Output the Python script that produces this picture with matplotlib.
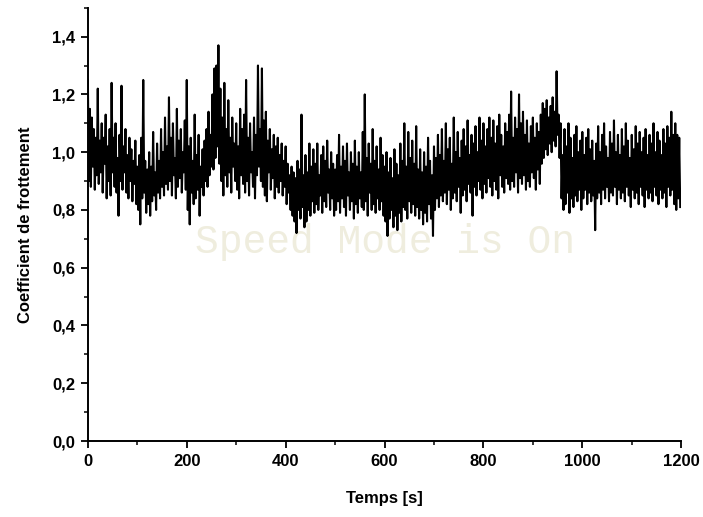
import numpy as np
import matplotlib
matplotlib.use('Agg')
import matplotlib.pyplot as plt
from matplotlib.ticker import MultipleLocator

# friction coefficient, one value every 2 s
mu_0_200 = [1.25, 0.90, 1.15, 0.88, 1.12, 0.95, 1.08, 0.87, 1.05, 0.92,
            1.22, 0.89, 1.04, 0.93, 1.10, 0.86, 1.05, 0.96, 1.13, 0.84,
            1.02, 0.90, 1.08, 0.85, 1.24, 0.93, 1.05, 0.88, 1.10, 0.86,
            0.98, 0.78, 1.06, 0.90, 1.23, 0.87, 1.02, 0.93, 1.08, 0.86,
            0.99, 0.84, 1.05, 0.90, 1.01, 0.83, 0.97, 0.89, 1.04, 0.82,
            0.95, 0.80, 0.99, 0.75, 1.05, 0.84, 1.25, 0.86, 0.97, 0.79,
            0.94, 0.82, 1.00, 0.78, 0.95, 0.83, 1.07, 0.85, 0.93, 0.80,
            1.03, 0.86, 0.97, 0.84, 1.08, 0.88, 1.00, 0.85, 1.12, 0.89,
            1.02, 0.87, 1.19, 0.90, 1.05, 0.85, 1.10, 0.92, 0.98, 0.84,
            1.15, 0.88, 1.04, 0.91, 1.08, 0.86, 1.00, 0.93, 1.11, 0.87]
mu_200_400 = [1.25, 0.80, 1.02, 0.75, 1.05, 0.86, 0.97, 0.82, 1.13, 0.84,
              0.99, 0.87, 1.06, 0.78, 0.95, 0.88, 1.01, 0.85, 1.04, 0.90,
              1.08, 0.88, 1.14, 0.92, 1.06, 0.95, 1.20, 0.94, 1.29, 0.98,
              1.30, 1.02, 1.37, 0.96, 1.22, 0.90, 1.12, 0.85, 1.24, 0.92,
              1.08, 0.88, 1.18, 0.93, 1.05, 0.86, 1.12, 0.95, 1.03, 0.90,
              1.10, 0.87, 1.02, 0.84, 1.15, 0.92, 1.08, 0.89, 1.13, 0.86,
              1.25, 0.90, 1.05, 0.85, 1.10, 0.93, 1.00, 0.88, 1.12, 0.84,
              1.06, 0.92, 1.30, 0.95, 1.08, 0.90, 1.29, 0.88, 1.11, 0.85,
              1.14, 0.83, 1.04, 0.93, 1.08, 0.87, 1.01, 0.91, 1.06, 0.84,
              1.02, 0.88, 1.05, 0.86, 0.99, 0.90, 1.03, 0.85, 0.97, 0.88]
mu_400_600 = [1.02, 0.82, 0.96, 0.86, 0.92, 0.80, 0.95, 0.78, 0.93, 0.76,
              0.91, 0.72, 0.97, 0.80, 0.94, 0.77, 1.13, 0.81, 0.92, 0.74,
              0.99, 0.76, 0.93, 0.80, 1.03, 0.78, 0.95, 0.83, 1.01, 0.79,
              0.96, 0.82, 1.03, 0.80, 0.92, 0.85, 0.99, 0.79, 1.02, 0.83,
              0.97, 0.81, 1.04, 0.86, 0.94, 0.80, 1.00, 0.84, 0.96, 0.78,
              0.94, 0.80, 0.99, 0.83, 1.06, 0.79, 0.95, 0.84, 1.02, 0.81,
              0.97, 0.78, 1.03, 0.85, 0.93, 0.80, 1.00, 0.83, 0.96, 0.77,
              1.04, 0.82, 0.95, 0.79, 1.00, 0.84, 0.93, 0.81, 1.07, 0.80,
              1.20, 0.83, 0.98, 0.78, 1.03, 0.86, 0.96, 0.80, 1.08, 0.82,
              0.97, 0.79, 1.02, 0.84, 0.94, 0.80, 1.05, 0.83, 0.99, 0.78]
mu_600_800 = [0.95, 0.76, 1.00, 0.71, 0.93, 0.77, 0.98, 0.80, 0.91, 0.74,
              1.01, 0.78, 0.96, 0.73, 0.92, 0.79, 1.03, 0.76, 0.97, 0.81,
              1.10, 0.80, 0.95, 0.77, 1.07, 0.83, 0.98, 0.79, 1.04, 0.82,
              0.96, 0.78, 1.09, 0.81, 0.94, 0.77, 1.01, 0.80, 0.93, 0.75,
              1.00, 0.79, 0.95, 0.76, 1.05, 0.82, 0.97, 0.77, 0.92, 0.71,
              1.02, 0.80, 0.98, 0.84, 1.06, 0.81, 0.99, 0.85, 1.08, 0.83,
              0.97, 0.86, 1.10, 0.82, 1.01, 0.87, 1.05, 0.80, 0.96, 0.84,
              1.12, 0.86, 1.00, 0.83, 1.07, 0.88, 0.98, 0.79, 1.04, 0.85,
              1.08, 0.87, 1.02, 0.83, 1.11, 0.89, 0.99, 0.86, 1.06, 0.78,
              1.03, 0.88, 1.09, 0.85, 1.00, 0.90, 1.12, 0.87, 1.04, 0.84]
mu_800_1000 = [1.10, 0.89, 1.02, 0.86, 1.08, 0.91, 1.12, 0.88, 1.05, 0.85,
               1.11, 0.90, 1.03, 0.87, 1.09, 0.84, 1.13, 0.92, 1.06, 0.88,
               1.02, 0.86, 1.10, 0.91, 1.07, 0.89, 1.13, 0.87, 1.21, 0.90,
               1.05, 0.88, 1.12, 0.93, 1.08, 0.86, 1.20, 0.91, 1.10, 0.89,
               1.14, 0.92, 1.06, 0.87, 1.11, 0.90, 1.03, 0.88, 1.09, 0.93,
               1.12, 0.91, 1.05, 0.87, 1.10, 0.94, 1.07, 0.89, 1.13, 0.96,
               1.17, 0.98, 1.15, 1.01, 1.18, 0.99, 1.12, 1.03, 1.16, 1.00,
               1.19, 1.04, 1.14, 1.02, 1.28, 1.06, 1.13, 0.98, 1.10, 0.84,
               0.99, 0.80, 1.08, 0.82, 1.02, 0.86, 1.10, 0.79, 1.05, 0.84,
               0.98, 0.81, 1.06, 0.85, 1.09, 0.83, 1.00, 0.87, 1.04, 0.80]
mu_1000_1200 = [1.07, 0.84, 0.99, 0.87, 1.05, 0.82, 1.08, 0.86, 1.01, 0.83,
                1.04, 0.85, 0.97, 0.73, 1.03, 0.84, 1.09, 0.86, 1.00, 0.82,
                1.06, 0.87, 1.10, 0.84, 1.02, 0.88, 0.98, 0.83, 1.07, 0.86,
                1.03, 0.85, 1.11, 0.88, 1.00, 0.82, 1.06, 0.87, 0.99, 0.84,
                1.08, 0.86, 1.02, 0.83, 1.10, 0.88, 1.04, 0.85, 0.98, 0.81,
                1.06, 0.87, 1.01, 0.84, 1.09, 0.86, 1.03, 0.82, 1.07, 0.88,
                1.00, 0.85, 1.05, 0.81, 1.08, 0.87, 0.99, 0.84, 1.06, 0.86,
                1.03, 0.83, 1.10, 0.88, 1.00, 0.85, 1.07, 0.82, 1.04, 0.87,
                0.99, 0.84, 1.08, 0.86, 1.03, 0.81, 1.09, 0.88, 1.05, 0.85,
                1.14, 0.87, 1.06, 0.82, 1.10, 0.80, 1.06, 0.84, 1.05, 0.81]

mu = np.concatenate([mu_0_200, mu_200_400, mu_400_600,
                     mu_600_800, mu_800_1000, mu_1000_1200])
t = np.arange(len(mu)) * 2.0   # time in s

yticks = [0.0, 0.2, 0.4, 0.6, 0.8, 1.0, 1.2, 1.4]
ylabels = ['0,0', '0,2', '0,4', '0,6', '0,8', '1,0', '1,2', '1,4']
xticks = [0, 200, 400, 600, 800, 1000, 1200]

plt.rcParams['font.family'] = ['Liberation Sans', 'DejaVu Sans']

fig = plt.figure(figsize=(7.03, 5.17), dpi=100)
ax = fig.add_axes([0.125, 0.147, 0.844, 0.838])

ax.plot(t, mu, color='black', linewidth=1.5, zorder=3)

# watermark from the original software
ax.text(601, 0.69, 'Speed Mode is On', family='Liberation Mono', fontsize=28.5,
        color='#efedde', ha='center', va='center', zorder=1)

ax.set_xlim(0, 1200)
ax.set_ylim(0, 1.5)
ax.set_xticks(xticks)
ax.set_yticks(yticks)
ax.set_yticklabels(ylabels)
ax.xaxis.set_minor_locator(MultipleLocator(100))
ax.yaxis.set_minor_locator(MultipleLocator(0.1))

for s in ['top', 'right']:
    ax.spines[s].set_visible(False)
for s in ['left', 'bottom']:
    ax.spines[s].set_linewidth(1.4)

ax.tick_params(which='major', direction='out', length=5, width=1.3,
               labelsize=12, pad=4)
ax.tick_params(which='minor', direction='out', length=3, width=1.1)
for lab in ax.get_xticklabels() + ax.get_yticklabels():
    lab.set_fontweight('bold')

ax.set_xlabel('Temps [s]', fontsize=12, fontweight='bold', labelpad=16)
ax.set_ylabel('Coefficient de frottement', fontsize=12, fontweight='bold', labelpad=14)

plt.savefig('out.png', dpi=100)
